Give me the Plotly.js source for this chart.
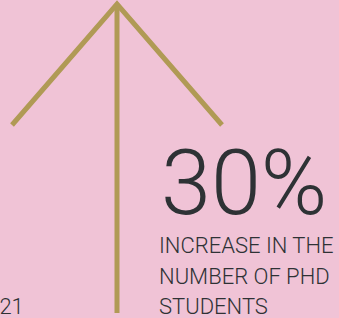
<!DOCTYPE html>
<html><head><meta charset="utf-8">
<script src="https://cdn.plot.ly/plotly-3.0.1.min.js"></script>
<style>html,body{margin:0;padding:0;background:#f0c3d6;}#c{width:339px;height:318px;}</style>
</head><body><div id="c"></div>
<script>
const percentValue = 30;
const percentLabel = ["INCREASE IN THE", "NUMBER OF PHD", "STUDENTS"];
const yearLabel = "2021";
// arrow path: shaft and head
const arrowX = [117, 117, null, 12, 117, 222];
const arrowY = [313, 4, null, 125, 4, 125];

const fontFam = "Roboto, 'Open Sans', sans-serif";
const txtColor = '#2e3235';
const H = 318;
const trace = {
  x: arrowX, y: arrowY, mode: 'lines', type: 'scatter',
  line: {color: '#b09a55', width: 5}, hoverinfo: 'skip', connectgaps: false
};
function lab(x, py, text, size, anchor) {
  return {x: x / 339, y: 1 - py / H, xref: 'paper', yref: 'paper', xanchor: anchor || 'left', yanchor: 'bottom', showarrow: false,
    text: text, font: {family: fontFam, size: size, color: txtColor, weight: 300}};
}
const layout = {
  width: 339, height: 318,
  margin: {l:0, r:0, t:0, b:0},
  paper_bgcolor: '#f0c3d6', plot_bgcolor: '#f0c3d6',
  showlegend: false,
  xaxis: {range: [0, 339], visible: false, fixedrange: true},
  yaxis: {range: [318, 0], visible: false, fixedrange: true},
  annotations: [
    lab(159, 237.5, percentValue + '%', 90),
    lab(157, 259.5, percentLabel[0], 22),
    lab(157, 290.5, percentLabel[1], 22),
    lab(157, 320.5, percentLabel[2], 22),
    lab(25.5, 320.5, yearLabel, 22, 'right')
  ]
};
Plotly.newPlot('c', [trace], layout, {displayModeBar: false, staticPlot: true});
</script></body></html>
